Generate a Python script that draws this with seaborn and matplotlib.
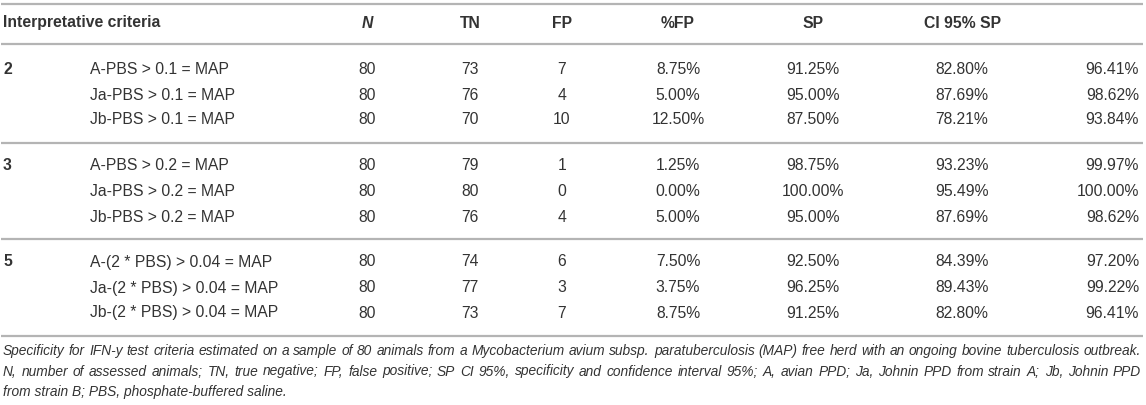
import matplotlib
matplotlib.use("Agg")
import matplotlib.pyplot as plt
import seaborn as sns

# table content
groups = ["2", "3", "5"]
criteria = [
    "A-PBS > 0.1 = MAP", "Ja-PBS > 0.1 = MAP", "Jb-PBS > 0.1 = MAP",
    "A-PBS > 0.2 = MAP", "Ja-PBS > 0.2 = MAP", "Jb-PBS > 0.2 = MAP",
    "A-(2 * PBS) > 0.04 = MAP", "Ja-(2 * PBS) > 0.04 = MAP", "Jb-(2 * PBS) > 0.04 = MAP",
]
n_vals = [80, 80, 80, 80, 80, 80, 80, 80, 80]
tn_vals = [73, 76, 70, 79, 80, 76, 74, 77, 73]
fp_vals = [7, 4, 10, 1, 0, 4, 6, 3, 7]
pct_fp = [8.75, 5.00, 12.50, 1.25, 0.00, 5.00, 7.50, 3.75, 8.75]
sp_vals = [91.25, 95.00, 87.50, 98.75, 100.00, 95.00, 92.50, 96.25, 91.25]
ci_low = [82.80, 87.69, 78.21, 93.23, 95.49, 87.69, 84.39, 89.43, 82.80]
ci_high = [96.41, 98.62, 93.84, 99.97, 100.00, 98.62, 97.20, 99.22, 96.41]
headers = ["N", "TN", "FP", "%FP", "SP", "CI 95% SP"]
caption = [
    "Specificity for IFN-y test criteria estimated on a sample of 80 animals from a Mycobacterium avium subsp. "
    "paratuberculosis (MAP) free herd with an ongoing bovine tuberculosis outbreak.",
    "N, number of assessed animals; TN, true negative; FP, false positive; SP CI 95%, specificity and confidence "
    "interval 95%; A, avian PPD; Ja, Johnin PPD from strain A; Jb, Johnin PPD",
    "from strain B; PBS, phosphate-buffered saline.",
]

sns.set_theme(style="white")
plt.rcParams["font.family"] = ["Liberation Sans", "DejaVu Sans"]

TXT = "#333333"
LINE = "#b4b4b4"
FS = 11.3

fig = plt.figure(figsize=(11.46, 4.05), dpi=100)
ax = fig.add_axes([0, 0, 1, 1])
ax.set_xlim(0, 1146)
ax.set_ylim(405, 0)
ax.axis("off")

# column centres (pixels)
col_x = [367, 470, 562, 678, 813, 962]
hi_right = 1139

# header
ax.text(3, 23, "Interpretative criteria", ha="left", va="center", fontsize=FS,
        fontweight="bold", color=TXT)
for i, h in enumerate(headers):
    ax.text(col_x[i], 23, h, ha="center", va="center", fontsize=FS, fontweight="bold",
            style="italic" if h == "N" else "normal", color=TXT)

for y in [4, 44]:
    ax.plot([1, 1143], [y, y], color=LINE, lw=1.6, solid_capstyle="butt")

row_y = [69, 95, 120, 165, 191, 217, 262, 288, 313]
sep_y = [143, 239, 336]

for g, name in enumerate(groups):
    ax.text(3, row_y[g * 3], name, ha="left", va="center", fontsize=FS,
            fontweight="bold", color=TXT)

for i, y in enumerate(row_y):
    ax.text(90, y, criteria[i], ha="left", va="center", fontsize=FS, color=TXT)
    vals = [f"{n_vals[i]}", f"{tn_vals[i]}", f"{fp_vals[i]}", f"{pct_fp[i]:.2f}%",
            f"{sp_vals[i]:.2f}%", f"{ci_low[i]:.2f}%"]
    for x, v in zip(col_x, vals):
        ax.text(x, y, v, ha="center", va="center", fontsize=FS, color=TXT)
    ax.text(hi_right, y, f"{ci_high[i]:.2f}%", ha="right", va="center", fontsize=FS, color=TXT)

for y in sep_y:
    ax.plot([1, 1143], [y, y], color=LINE, lw=1.6, solid_capstyle="butt")

# caption: italic, justified to the table width
renderer = fig.canvas.get_renderer()


def text_width(s, fs):
    t = ax.text(0, 0, s, fontsize=fs, style="italic")
    w = t.get_window_extent(renderer).width
    t.remove()
    return w


left, right = 3, 1141
cap_fs = 9.0 * (right - left) / text_width(caption[0], 9.0)
for k, line in enumerate(caption):
    y = 351 + k * 20.5
    if k == len(caption) - 1:
        ax.text(left, y, line, ha="left", va="center", fontsize=cap_fs,
                style="italic", color=TXT)
        continue
    words = line.split(" ")
    widths = [text_width(w, cap_fs) for w in words]
    gap = (right - left - sum(widths)) / (len(words) - 1)
    x = left
    for w, wd in zip(words, widths):
        ax.text(x, y, w, ha="left", va="center", fontsize=cap_fs, style="italic", color=TXT)
        x += wd + gap

fig.savefig("out.png", dpi=100)
